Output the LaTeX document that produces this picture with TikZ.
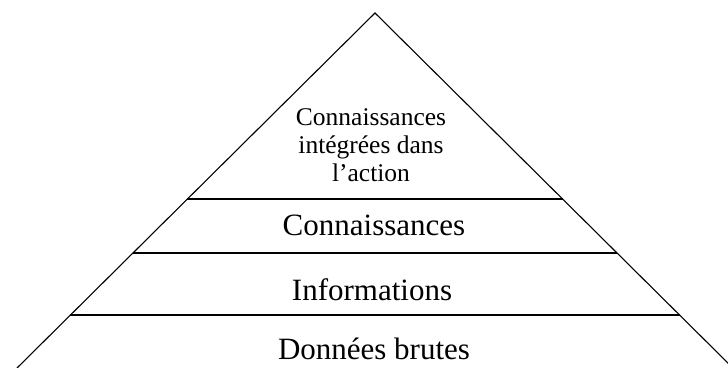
\documentclass[tikz,border=0pt]{standalone}
\usepackage{fontspec}
\setmainfont{Liberation Serif}
\usetikzlibrary{calc}
\begin{document}
\begin{tikzpicture}[x=1pt,y=-1pt,
  edge/.style={line width=1.1pt,black},
  layer/.style={line width=1.5pt,black},
  big/.style={font=\fontsize{31}{34}\selectfont,anchor=base,inner sep=0pt},
  small/.style={font=\fontsize{25.5}{28}\selectfont,align=center,inner sep=0pt}]
\useasboundingbox (0,0) rectangle (728,367);
\coordinate (apex) at (375,13);
\coordinate (bl) at (17,368);
\coordinate (br) at (733,368);
\draw[edge] (bl) -- (apex) -- (br);
\draw[layer] ($(apex)!{(199-13)/355}!(bl)$) coordinate (l1) -- ($(apex)!{(199-13)/355}!(br)$) coordinate (r1);
\draw[layer] ($(apex)!{(253-13)/355}!(bl)$) coordinate (l2) -- ($(apex)!{(253-13)/355}!(br)$) coordinate (r2);
\draw[layer] ($(apex)!{(315-13)/355}!(bl)$) coordinate (l3) -- ($(apex)!{(315-13)/355}!(br)$) coordinate (r3);
\node[small,anchor=base] (top) at (371,181) {Connaissances\\int\'egr\'ees dans\\l'action};
\node[big] (conn) at (374,235) {Connaissances};
\node[big] (info) at (372,300) {Informations};
\node[big] (data) at (374,359) {Donn\'ees brutes};
\end{tikzpicture}
\end{document}
